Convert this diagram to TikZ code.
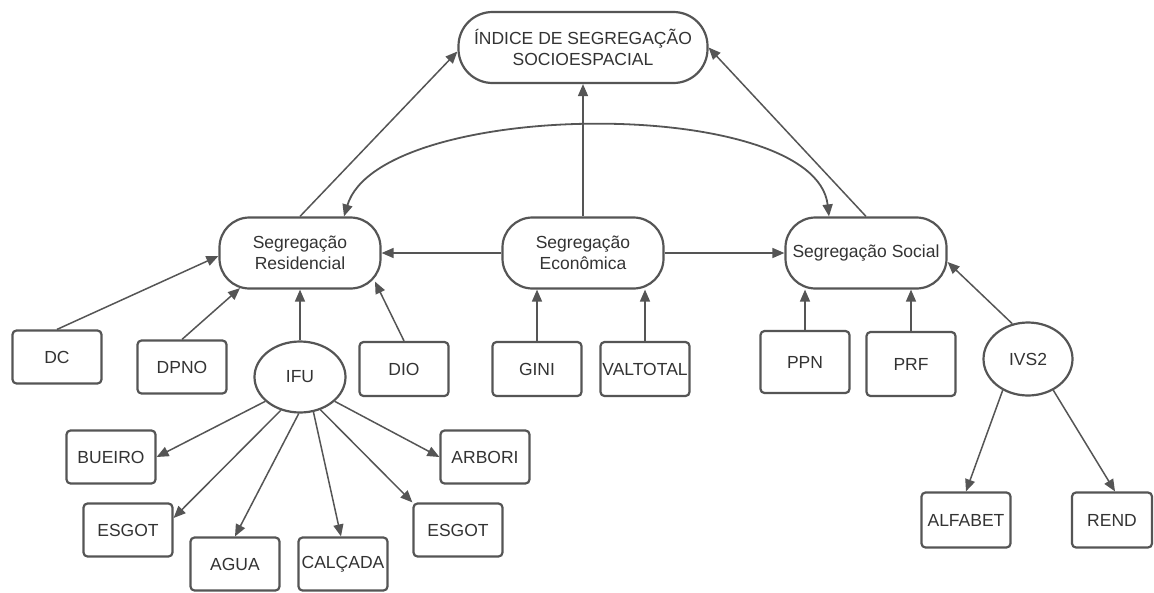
\documentclass[tikz,border=0pt]{standalone}
\usepackage{fontspec}
\setmainfont{Liberation Sans}
\usetikzlibrary{arrows.meta,shapes.geometric}
\definecolor{ln}{HTML}{555555}
\definecolor{tx}{HTML}{333333}
\begin{document}
\begin{tikzpicture}[x=1pt,y=-1pt,
  base/.style={draw=ln,line width=2.2pt,text=tx,inner sep=0pt,align=center,
    font=\fontsize{17.5}{21}\selectfont},
  seg/.style={base,rectangle,rounded corners=30pt,minimum width=161pt,minimum height=71pt},
  topbox/.style={base,rectangle,rounded corners=34pt,minimum width=249pt,minimum height=71pt},
  var/.style={base,rectangle,rounded corners=4pt,minimum width=89pt,minimum height=53pt},
  ell/.style={base,ellipse,minimum width=91pt,minimum height=71pt},
  arr/.style={draw=ln,line width=1.5pt,-{Triangle[length=12pt,width=10pt]}},
  darr/.style={draw=ln,line width=1.8pt,{Triangle[length=12pt,width=10pt]}-{Triangle[length=12pt,width=10pt]}}
]
\useasboundingbox[fill=white] (0,0) rectangle (1154,592);

\node[topbox] (top) at (583,47.5) {ÍNDICE DE SEGREGAÇÃO\\SOCIOESPACIAL};
\node[seg] (res) at (300,253) {Segregação\\Residencial};
\node[seg] (eco) at (583,253) {Segregação\\Econômica};
\node[seg] (soc) at (866,253) {Segregação Social};

\node[var] (dc) at (57,357) {DC};
\node[var] (dpno) at (182,367) {DPNO};
\node[ell] (ifu) at (300,377) {IFU};
\node[var,minimum height=54pt] (dio) at (404,369) {DIO};
\node[var,minimum height=54pt] (gini) at (537,369) {GINI};
\node[var,minimum height=54pt] (valtotal) at (645,369) {VALTOTAL};
\node[var,minimum height=62pt] (ppn) at (805,362) {PPN};
\node[var,minimum height=64pt] (prf) at (911,364) {PRF};
\node[ell,minimum width=89pt,minimum height=73pt] (ivs) at (1028,359) {IVS2};
\node[var,minimum height=55pt] (alfabet) at (966,520) {ALFABET};
\node[var,minimum width=80pt,minimum height=55pt] (rend) at (1112,520) {REND};

\node[var] (bueiro) at (111,457) {BUEIRO};
\node[var] (esgot1) at (128,530) {ESGOT};
\node[var] (agua) at (235,564) {AGUA};
\node[var] (calcada) at (343,564) {CALÇADA};
\node[var] (esgot2) at (458,530) {ESGOT};
\node[var] (arbori) at (485,457) {ARBORI};

% to the index
\draw[arr] (res.north) -- ([yshift=-4pt]top.west);
\draw[arr] (eco.north) -- (top.south);
\draw[arr] (soc.north) -- (top.east);
% curved double arrow
\draw[darr] ([xshift=44pt]res.north) .. controls (380,98) and (815,95) .. ([xshift=-37pt]soc.north);
% economic to others
\draw[arr] (eco.west) -- (res.east);
\draw[arr] (eco.east) -- (soc.west);
% to residencial
\draw[arr] (dc.north) -- ([yshift=-3pt]res.west);
\draw[arr] (dpno.north) -- ([xshift=-60pt,yshift=1.5pt]res.south);
\draw[arr] (ifu.north) -- (res.south);
\draw[arr] (dio.north) -- ([xshift=75pt,yshift=8pt]res.south);
% to economica
\draw[arr] (gini.north) -- ([xshift=-46pt]eco.south);
\draw[arr] (valtotal.north) -- ([xshift=62pt]eco.south);
% to social
\draw[arr] (ppn.north) -- ([xshift=-61pt]soc.south);
\draw[arr] (prf.north) -- ([xshift=45pt]soc.south);
\draw[arr] (ivs.114) -- ([yshift=-9pt]soc.east);
% IFU children
\draw[arr] (ifu.215) -- (bueiro.east);
\draw[arr] (ifu.240) -- ([yshift=12pt]esgot1.east);
\draw[arr] (ifu.268) -- (agua.north);
\draw[arr] (ifu.291) -- ([xshift=-2pt]calcada.north);
\draw[arr] (ifu.302) -- (esgot2.north west);
\draw[arr] (ifu.325) -- (arbori.west);
% IVS2 children
\draw[arr] (ivs.231) -- (alfabet.north);
\draw[arr] (ivs.309) -- ([xshift=3pt]rend.north);
\end{tikzpicture}
\end{document}
